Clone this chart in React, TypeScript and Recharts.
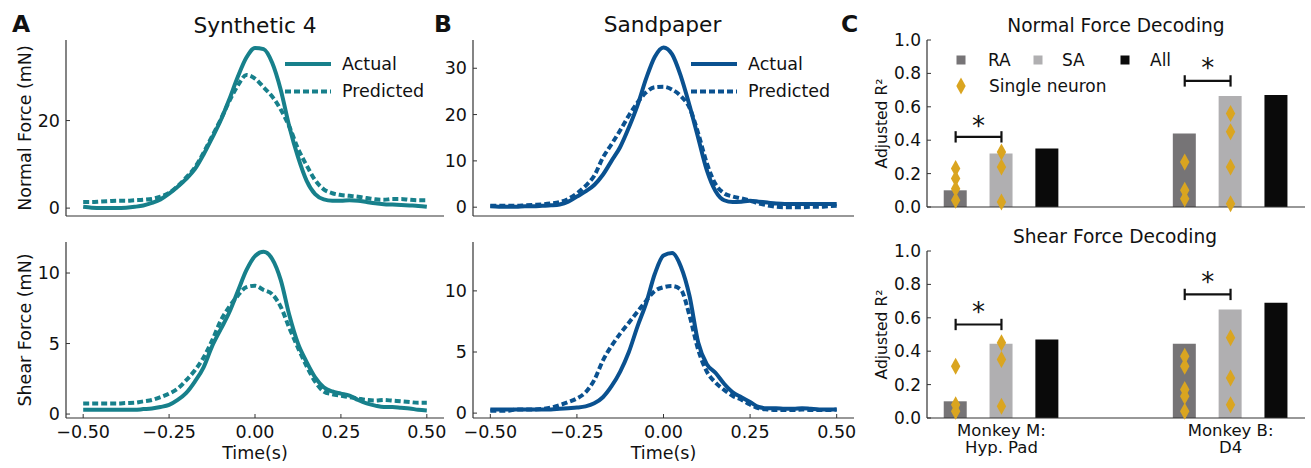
import React from 'react'
import {
    LineChart,
    Line,
    XAxis,
    YAxis,
    Legend,
    Label,
    ComposedChart,
    Bar,
    Cell,
    Scatter,
    ReferenceLine,
    ReferenceDot
} from 'recharts'

const FONT = '"DejaVu Sans", Verdana, sans-serif'
const TEXT = '#111111'
const AXIS = '#333333'
const TEAL = '#17808b'
const NAVY = '#0a5190'

// ---- force traces (A, B) ----
const timeSec = [-0.5, -0.475, -0.45, -0.425, -0.4, -0.375, -0.35, -0.325, -0.3, -0.275, -0.25, -0.225, -0.2, -0.175, -0.15, -0.125, -0.1, -0.075, -0.05, -0.025, 0, 0.025, 0.05, 0.075, 0.1, 0.125, 0.15, 0.175, 0.2, 0.225, 0.25, 0.275, 0.3, 0.325, 0.35, 0.375, 0.4, 0.425, 0.45, 0.475, 0.5]
const timeTicks = [-0.5, -0.25, 0, 0.25, 0.5]

const synthNormalActual = [0.3, 0.1, 0.0, 0.0, 0.0, 0.1, 0.3, 0.6, 1.2, 2.0, 3.3, 4.9, 6.7, 8.9, 12.2, 16.0, 20.0, 24.8, 30.0, 34.4, 36.6, 36.3, 33.2, 27.0, 18.6, 11.7, 6.3, 3.2, 2.0, 1.7, 1.7, 1.8, 1.7, 1.4, 1.1, 0.9, 0.8, 0.7, 0.6, 0.5, 0.3]
const synthNormalPredicted = [1.4, 1.4, 1.5, 1.6, 1.7, 1.7, 1.8, 1.9, 2.1, 2.6, 3.5, 5.0, 7.0, 9.3, 12.6, 16.4, 20.2, 24.4, 28.0, 30.4, 29.6, 27.6, 25.5, 22.5, 18.6, 13.6, 9.8, 6.4, 4.3, 3.4, 3.0, 2.8, 2.6, 2.3, 2.0, 1.9, 2.1, 2.1, 1.9, 1.8, 1.8]
const synthShearActual = [0.3, 0.3, 0.3, 0.3, 0.3, 0.3, 0.3, 0.35, 0.4, 0.5, 0.65, 1.0, 1.5, 2.3, 3.3, 4.8, 6.0, 7.2, 8.7, 10.2, 11.2, 11.5, 11.0, 9.5, 7.0, 5.0, 3.7, 2.6, 1.9, 1.6, 1.45, 1.3, 1.0, 0.75, 0.6, 0.5, 0.5, 0.45, 0.4, 0.3, 0.25]
const synthShearPredicted = [0.75, 0.75, 0.75, 0.75, 0.75, 0.78, 0.8, 0.9, 1.0, 1.2, 1.45, 1.8, 2.4, 3.1, 4.0, 5.2, 6.6, 7.6, 8.4, 9.0, 9.1, 8.8, 8.5, 7.6, 6.1, 4.7, 3.4, 2.3, 1.6, 1.4, 1.3, 1.2, 1.1, 1.0, 0.95, 1.0, 0.95, 0.9, 0.85, 0.8, 0.8]
const sandNormalActual = [0.2, 0.1, 0.1, 0.1, 0.2, 0.2, 0.3, 0.4, 0.6, 1.2, 2.3, 3.4, 4.8, 7.0, 10.0, 13.0, 17.2, 22.0, 27.8, 32.5, 34.5, 33.0, 28.3, 22.0, 15.0, 8.0, 3.5, 1.5, 1.1, 1.2, 1.4, 1.2, 1.0, 0.8, 0.7, 0.7, 0.7, 0.7, 0.7, 0.7, 0.7]
const sandNormalPredicted = [0.3, 0.3, 0.3, 0.3, 0.4, 0.5, 0.6, 0.8, 1.1, 1.8, 3.0, 4.6, 6.8, 10.7, 13.6, 16.6, 19.8, 22.6, 24.8, 25.9, 26.0, 25.4, 24.0, 21.5, 16.0, 9.5, 5.0, 3.0, 2.3, 1.9, 1.4, 0.8, 0.4, 0.1, 0.0, 0.0, 0.0, 0.1, 0.1, 0.2, 0.3]
const sandShearActual = [0.3, 0.3, 0.3, 0.3, 0.3, 0.3, 0.3, 0.3, 0.35, 0.4, 0.45, 0.55, 0.8, 1.3, 2.2, 3.4, 5.0, 7.1, 9.0, 11.4, 12.9, 13.1, 12.0, 9.6, 5.8, 4.0, 3.3, 2.4, 1.7, 1.3, 0.9, 0.5, 0.4, 0.4, 0.35, 0.35, 0.4, 0.35, 0.3, 0.3, 0.3]
const sandShearPredicted = [0.2, 0.2, 0.2, 0.3, 0.3, 0.3, 0.35, 0.45, 0.65, 0.9, 1.2, 1.7, 2.7, 4.3, 5.5, 6.5, 7.4, 8.3, 9.2, 10.0, 10.3, 10.4, 10.1, 8.0, 5.2, 3.4, 2.5, 1.9, 1.4, 1.1, 0.7, 0.4, 0.3, 0.25, 0.25, 0.25, 0.3, 0.25, 0.25, 0.25, 0.3]

// ---- decoding (C) ----
const populations = ['RA', 'SA', 'All']
const popColors = ['#767476', '#b0afb1', '#0a0a0a']
const monkeyLabels = [['Monkey M:', 'Hyp. Pad'], ['Monkey B:', 'D4']]
const monkeyTicks = [1, 6]
const barPos = [0, 1, 2, 5, 6, 7]
const normalR2 = [0.10, 0.32, 0.35, 0.44, 0.665, 0.67]
const shearR2 = [0.10, 0.445, 0.47, 0.445, 0.65, 0.69]
// single neurons: [bar position, adjusted R2]
const normalNeurons = [[0, 0.23], [0, 0.17], [0, 0.11], [0, 0.04], [1, 0.33], [1, 0.24], [1, 0.03], [5, 0.27], [5, 0.10], [5, 0.05], [6, 0.56], [6, 0.45], [6, 0.24], [6, 0.02]]
const shearNeurons = [[0, 0.31], [0, 0.08], [0, 0.04], [1, 0.45], [1, 0.35], [1, 0.07], [5, 0.37], [5, 0.31], [5, 0.17], [5, 0.13], [5, 0.04], [6, 0.48], [6, 0.24], [6, 0.08]]
// significance: [from, to, bracket y, star y]
const normalSig = [[0, 1, 0.42, 0.515], [5, 6, 0.755, 0.86]]
const shearSig = [[0, 1, 0.56, 0.665], [5, 6, 0.74, 0.845]]

const traceRows = (actual: number[], predicted: number[]) =>
    timeSec.map((t, i) => ({ t, actual: actual[i], predicted: predicted[i] }))

const fmtTime = (v: number) => v.toFixed(2).replace('-', '\u2212')

const tickFont = { fontSize: 17.5, fill: TEXT, fontFamily: FONT }

function TraceLegend({ color }: { color: string }) {
    return (
        <svg width={160} height={56} style={{ display: 'block' }}>
            <line x1={5} x2={51} y1={14} y2={14} stroke={color} strokeWidth={4} />
            <line x1={5} x2={51} y1={41.5} y2={41.5} stroke={color} strokeWidth={4} strokeDasharray="6 3" />
            <text x={62} y={20} fontSize={17.5} fill={TEXT} fontFamily={FONT}>Actual</text>
            <text x={62} y={47} fontSize={17.5} fill={TEXT} fontFamily={FONT}>Predicted</text>
        </svg>
    )
}

interface TracePanelProps {
    left: number
    top: number
    width: number
    height: number
    yWidth: number
    actual: number[]
    predicted: number[]
    color: string
    yDomain: [number, number]
    yTicks: number[]
    showTime?: boolean
    yTitle?: string
    legendLeft?: number
}

function TracePanel(p: TracePanelProps) {
    const data = traceRows(p.actual, p.predicted)
    return (
        <div style={{ position: 'absolute', left: p.left, top: p.top }}>
            <LineChart width={p.width} height={p.height} data={data} margin={{ top: 10, right: 6, bottom: 0, left: 0 }}>
                <XAxis
                    dataKey="t"
                    type="number"
                    domain={[-0.55, 0.55]}
                    allowDataOverflow
                    ticks={timeTicks}
                    interval={0}
                    height={p.showTime ? 50 : 10}
                    tick={p.showTime ? tickFont : false}
                    tickFormatter={fmtTime}
                    tickSize={-4}
                    tickMargin={12}
                    axisLine={{ stroke: AXIS, strokeWidth: 1.2 }}
                    tickLine={{ stroke: AXIS, strokeWidth: 1 }}
                >
                    {p.showTime && (
                        <Label
                            content={({ viewBox }: any) => (
                                <text x={viewBox.x + viewBox.width / 2} y={viewBox.y + 41} textAnchor="middle"
                                    fontSize={17.5} fill={TEXT} fontFamily={FONT}>Time(s)</text>
                            )}
                        />
                    )}
                </XAxis>
                <YAxis
                    type="number"
                    domain={p.yDomain}
                    allowDataOverflow
                    ticks={p.yTicks}
                    interval={0}
                    width={p.yWidth}
                    tick={tickFont}
                    tickSize={-4}
                    tickMargin={10}
                    axisLine={{ stroke: AXIS, strokeWidth: 1.2 }}
                    tickLine={{ stroke: AXIS, strokeWidth: 1 }}
                >
                    {p.yTitle && (
                        <Label
                            content={({ viewBox }: any) => {
                                const x = viewBox.x + 31
                                const y = viewBox.y + viewBox.height / 2
                                return (
                                    <text x={x} y={y} transform={`rotate(-90 ${x} ${y})`} textAnchor="middle"
                                        fontSize={17.5} fill={TEXT} fontFamily={FONT}>{p.yTitle}</text>
                                )
                            }}
                        />
                    )}
                </YAxis>
                <Line type="monotone" dataKey="actual" name="Actual" stroke={p.color} strokeWidth={4} dot={false} isAnimationActive={false} />
                <Line type="monotone" dataKey="predicted" name="Predicted" stroke={p.color} strokeWidth={4} strokeDasharray="6 3" dot={false} isAnimationActive={false} />
                {p.legendLeft !== undefined && (
                    <Legend
                        layout="horizontal"
                        align="center"
                        verticalAlign="middle"
                        wrapperStyle={{ left: p.legendLeft, top: 20, width: 160 }}
                        content={() => <TraceLegend color={p.color} />}
                    />
                )}
            </LineChart>
        </div>
    )
}

const diamond = (cx: number, cy: number) =>
    `${cx},${cy - 8.5} ${cx + 4.7},${cy} ${cx},${cy + 8.5} ${cx - 4.7},${cy}`

function NeuronShape(props: any) {
    return <polygon points={diamond(props.cx, props.cy)} fill="#daa520" />
}

function DecodingLegend() {
    const xs = [11, 88, 175]
    const tx = [38, 112, 200]
    return (
        <svg width={260} height={54} style={{ display: 'block' }}>
            {populations.map((name, i) => (
                <g key={name}>
                    <rect x={xs[i] - 4.5} y={7.5} width={9} height={9} fill={popColors[i]} />
                    <text x={tx[i]} y={18} fontSize={17} fill={TEXT} fontFamily={FONT}>{name}</text>
                </g>
            ))}
            <polygon points={diamond(11, 38)} fill="#daa520" />
            <text x={39} y={44} fontSize={17} fill={TEXT} fontFamily={FONT}>Single neuron</text>
        </svg>
    )
}

function MonkeyTick({ x, y, payload }: any) {
    const lines = monkeyLabels[monkeyTicks.indexOf(payload.value)] || ['', '']
    return (
        <text x={x} y={y} textAnchor="middle" fontSize={16.5} fill={TEXT} fontFamily={FONT}>
            <tspan x={x} dy={11.7}>{lines[0]}</tspan>
            <tspan x={x} dy={17.5}>{lines[1]}</tspan>
        </text>
    )
}

interface DecodingPanelProps {
    top: number
    height: number
    values: number[]
    neurons: number[][]
    sig: number[][]
    showMonkeys?: boolean
    legend?: boolean
}

function DecodingPanel(p: DecodingPanelProps) {
    const bars = barPos.map((pos, i) => ({ pos, r2: p.values[i] }))
    const points = p.neurons.map(([pos, r2]) => ({ pos, r2 }))
    return (
        <div style={{ position: 'absolute', left: 840, top: p.top }}>
            <ComposedChart width={471} height={p.height} data={bars} margin={{ top: 10, right: 6, bottom: 0, left: 0 }}>
                <XAxis
                    dataKey="pos"
                    type="number"
                    domain={[-0.625, 7.625]}
                    allowDataOverflow
                    ticks={monkeyTicks}
                    interval={0}
                    height={p.showMonkeys ? 50 : 10}
                    tick={p.showMonkeys ? <MonkeyTick /> : false}
                    tickLine={false}
                    tickSize={0}
                    tickMargin={6}
                    axisLine={{ stroke: AXIS, strokeWidth: 1.2 }}
                />
                <YAxis
                    type="number"
                    domain={[0, 1]}
                    ticks={[0, 0.2, 0.4, 0.6, 0.8, 1.0]}
                    interval={0}
                    width={87}
                    tick={{ fontSize: 17, fill: TEXT, fontFamily: FONT }}
                    tickFormatter={(v: number) => v.toFixed(1)}
                    tickSize={-4}
                    tickMargin={10}
                    axisLine={{ stroke: AXIS, strokeWidth: 1.2 }}
                    tickLine={{ stroke: AXIS, strokeWidth: 1 }}
                >
                    <Label
                        content={({ viewBox }: any) => {
                            const x = viewBox.x + 47
                            const y = viewBox.y + viewBox.height / 2
                            return (
                                <text x={x} y={y} transform={`rotate(-90 ${x} ${y})`} textAnchor="middle"
                                    fontSize={15.5} fill={TEXT} fontFamily={FONT}>Adjusted R{'\u00b2'}</text>
                            )
                        }}
                    />
                </YAxis>
                <Bar dataKey="r2" barSize={23} isAnimationActive={false}>
                    {bars.map((b, i) => (
                        <Cell key={i} fill={popColors[i % 3]} />
                    ))}
                </Bar>
                <Scatter data={points} dataKey="r2" shape={NeuronShape} isAnimationActive={false} />
                {p.sig.map(([a, b, y, s], i) => (
                    <React.Fragment key={i}>
                        <ReferenceLine segment={[{ x: a, y }, { x: b, y }]} stroke="#111" strokeWidth={2.2} />
                        <ReferenceLine segment={[{ x: a, y: y - 0.034 }, { x: a, y: y + 0.034 }]} stroke="#111" strokeWidth={2.2} />
                        <ReferenceLine segment={[{ x: b, y: y - 0.034 }, { x: b, y: y + 0.034 }]} stroke="#111" strokeWidth={2.2} />
                        <ReferenceDot
                            x={(a + b) / 2}
                            y={s}
                            r={0}
                            shape={(d: any) => (
                                <text x={d.cx} y={d.cy + 14} textAnchor="middle" fontSize={26} fill="#111" fontFamily={FONT}>*</text>
                            )}
                        />
                    </React.Fragment>
                ))}
                {p.legend && (
                    <Legend
                        layout="horizontal"
                        align="center"
                        verticalAlign="middle"
                        wrapperStyle={{ left: 110, top: 18, width: 260 }}
                        content={() => <DecodingLegend />}
                    />
                )}
            </ComposedChart>
        </div>
    )
}

export default function App() {
    const titleStyle = { fontFamily: FONT, fill: TEXT }
    return (
        <div style={{ position: 'absolute', left: 0, top: 0, width: 1311, height: 468, background: '#fff', fontFamily: FONT }}>
            <svg width={1311} height={468} style={{ position: 'absolute', left: 0, top: 0 }}>
                <text x={12} y={32} fontSize={23.5} fontWeight="bold" {...titleStyle}>A</text>
                <text x={255} y={33} fontSize={21.7} textAnchor="middle" {...titleStyle}>Synthetic 4</text>
                <text x={434} y={32} fontSize={23.5} fontWeight="bold" {...titleStyle}>B</text>
                <text x={662.5} y={32} fontSize={21.7} textAnchor="middle" {...titleStyle}>Sandpaper</text>
                <text x={841} y={32} fontSize={23.5} fontWeight="bold" {...titleStyle}>C</text>
                <text x={1116} y={32} fontSize={18.6} textAnchor="middle" {...titleStyle}>Normal Force Decoding</text>
                <text x={1115} y={242.5} fontSize={18.6} textAnchor="middle" {...titleStyle}>Shear Force Decoding</text>
            </svg>

            <TracePanel left={0} top={30} width={450} height={196} yWidth={66}
                actual={synthNormalActual} predicted={synthNormalPredicted} color={TEAL}
                yDomain={[-1.8, 38.4]} yTicks={[0, 20]} yTitle="Normal Force (mN)" legendLeft={280} />
            <TracePanel left={0} top={232} width={450} height={236} yWidth={66}
                actual={synthShearActual} predicted={synthShearPredicted} color={TEAL}
                yDomain={[-0.28, 12.2]} yTicks={[0, 5, 10]} yTitle="Shear Force (mN)" showTime />
            <TracePanel left={400} top={30} width={460} height={196} yWidth={73}
                actual={sandNormalActual} predicted={sandNormalPredicted} color={NAVY}
                yDomain={[-1.9, 36.1]} yTicks={[0, 10, 20, 30]} legendLeft={286} />
            <TracePanel left={400} top={232} width={460} height={236} yWidth={73}
                actual={sandShearActual} predicted={sandShearPredicted} color={NAVY}
                yDomain={[-0.4, 14.0]} yTicks={[0, 5, 10]} showTime />

            <DecodingPanel top={30} height={187} values={normalR2} neurons={normalNeurons} sig={normalSig} legend />
            <DecodingPanel top={241} height={227} values={shearR2} neurons={shearNeurons} sig={shearSig} showMonkeys />
        </div>
    )
}
